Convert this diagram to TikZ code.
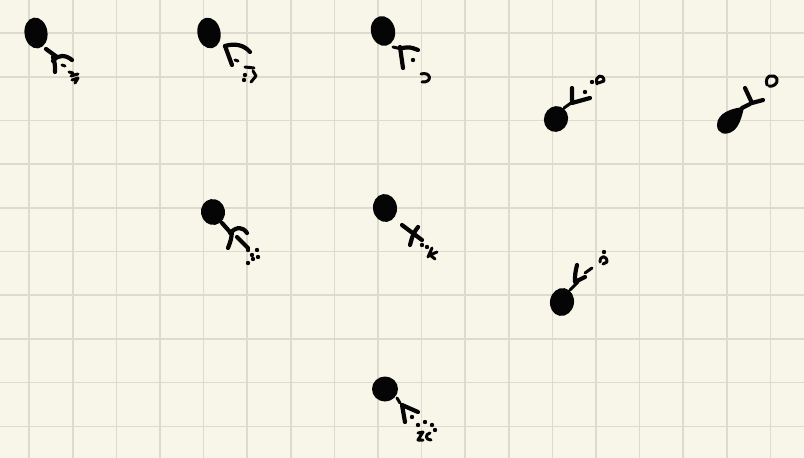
\documentclass[tikz,border=0pt]{standalone}
\usetikzlibrary{calc}
\definecolor{paper}{HTML}{F8F5E9}
\definecolor{gridl}{HTML}{DDDACE}
\definecolor{ink}{HTML}{050505}
\tikzset{sk/.style={line cap=round, line join=round},
  pen/.style={ink, line width=4.2pt},
  fine/.style={ink, line width=3pt}}
\newcommand{\specks}[1]{\foreach \sx/\sy in {#1}{\fill[ink] (\sx,\sy) circle (2.2);}}

\begin{document}
\begin{tikzpicture}[sk, x=1pt, y=-1pt]
  \useasboundingbox (0,0) rectangle (804,458);
  \fill[paper] (0,0) rectangle (804,458);
  \foreach \i in {0,...,17}{\draw[gridl,line width=1.6pt] ({29.2+43.6*\i},0)--++(0,458);}
  \foreach \j in {0,...,9}{\draw[gridl,line width=1.6pt] (0,{33+43.7*\j})--++(804,0);}
  % top row
  \begin{scope}[shift={(36,33)}]
    \fill[ink,rotate=8] (0,0) ellipse (11.5 and 15.5);
    \draw[pen] (10,16)--(21,24);
    \draw[pen] (17,24) .. controls (19,31) .. (19,39);
    \draw[pen] (17,28) .. controls (22,21) and (30,22) .. (36,27);
    \draw[fine] (26,32)--(29,33);
    \draw[fine] (33,39)--(37,40) (35,43)--(42,41) (36,47)--(42,45)--(39,50);
  \end{scope}
  \begin{scope}[shift={(209,33)}]
    \fill[ink,rotate=12] (0,0) ellipse (11.5 and 15.5);
    \draw[pen] (16,13) .. controls (19,22) .. (23,32);
    \draw[pen] (16,13) .. controls (26,10) and (35,12) .. (41,19);
    \draw[fine] (26,27)--(29,28);
    \draw[fine] (36,34)--(45,35) (44,38)--(47,43)--(42,49);
    \specks{35/47,36/42}
  \end{scope}
  \begin{scope}[shift={(383,31)}]
    \fill[ink,rotate=14] (0,0) ellipse (12 and 15);
    \draw[fine] (10,16)--(19,18);
    \draw[pen] (17,16) .. controls (19,26) .. (20,37);
    \draw[pen] (19,17) .. controls (27,16) .. (35,19);
    \specks{30/29}
    \draw[fine] (38,43) .. controls (48,40) and (50,52) .. (39,51);
  \end{scope}
  \begin{scope}[shift={(556,119)}]
    \fill[ink,rotate=-20] (0,0) ellipse (12 and 13);
    \draw[fine] (8,-11)--(15,-16);
    \draw[pen] (16,-31)--(16,-16)--(34,-21);
    \specks{29/-27,36/-37}
    \draw[fine] (41,-35) .. controls (38,-44) and (48,-46) .. (48,-38) -- (42,-36);
  \end{scope}
  \begin{scope}[shift={(730,121)}]
    \fill[ink] (14,-14) .. controls (2,-13) and (-13,-8) .. (-13,4) .. controls (-13,13) and (-4,15) .. (3,10) .. controls (9,6) and (12,-4) .. cycle;
    \draw[pen] (15,-33)--(22,-18)--(33,-21);
    \draw[pen] (12,-13)--(20,-17);
    \draw[fine] (37,-36) .. controls (34,-46) and (44,-48) .. (47,-42) .. controls (48,-37) and (43,-34) .. (39,-35);
  \end{scope}
  % middle rows
  \begin{scope}[shift={(213,212)}]
    \fill[ink,rotate=10] (0,0) ellipse (12 and 13);
    \draw[pen] (9,11)--(17,20);
    \draw[pen] (19,20) .. controls (18,28) .. (15,36);
    \draw[pen] (17,21) .. controls (24,14) and (30,15) .. (34,21);
    \draw[pen] (24,25)--(35,36);
    \specks{35/38,39/43,44/38,45/45,35/51,40/47}
  \end{scope}
  \begin{scope}[shift={(385,208)}]
    \fill[ink,rotate=8] (0,0) ellipse (12 and 14);
    \draw[pen] (17,17)--(37,32);
    \draw[pen] (33,19) .. controls (28,26) .. (25,37);
    \specks{37/37,42/39}
    \draw[fine] (47,40)--(43,49) (52,44)--(45,47)--(50,51);
  \end{scope}
  \begin{scope}[shift={(562,302)}]
    \fill[ink,rotate=-10] (0,0) ellipse (12 and 14);
    \draw[fine] (8,-12)--(16,-20);
    \draw[pen] (15,-37) .. controls (13,-28) .. (13,-20)--(23,-25);
    \draw[fine] (23,-29)--(30,-34);
    \draw[fine] (38,-40) .. controls (38,-47) and (45,-47) .. (45,-40) -- (41,-38);
    \specks{42/-50}
  \end{scope}
  \begin{scope}[shift={(385,389)}]
    \fill[ink] (0,0) ellipse (13 and 12.5);
    \draw[fine] (12,9)--(15,14);
    \draw[pen] (17,16) .. controls (19,24) .. (20,33);
    \draw[pen] (17,16)--(33,23);
    \specks{27/28,33/36,40/33,47/36,50/41}
    \draw[fine] (33,44)--(38,43)--(33,51)--(38,51);
    \draw[fine] (45,44) .. controls (40,45) and (40,51) .. (46,51);
  \end{scope}
\end{tikzpicture}
\end{document}
